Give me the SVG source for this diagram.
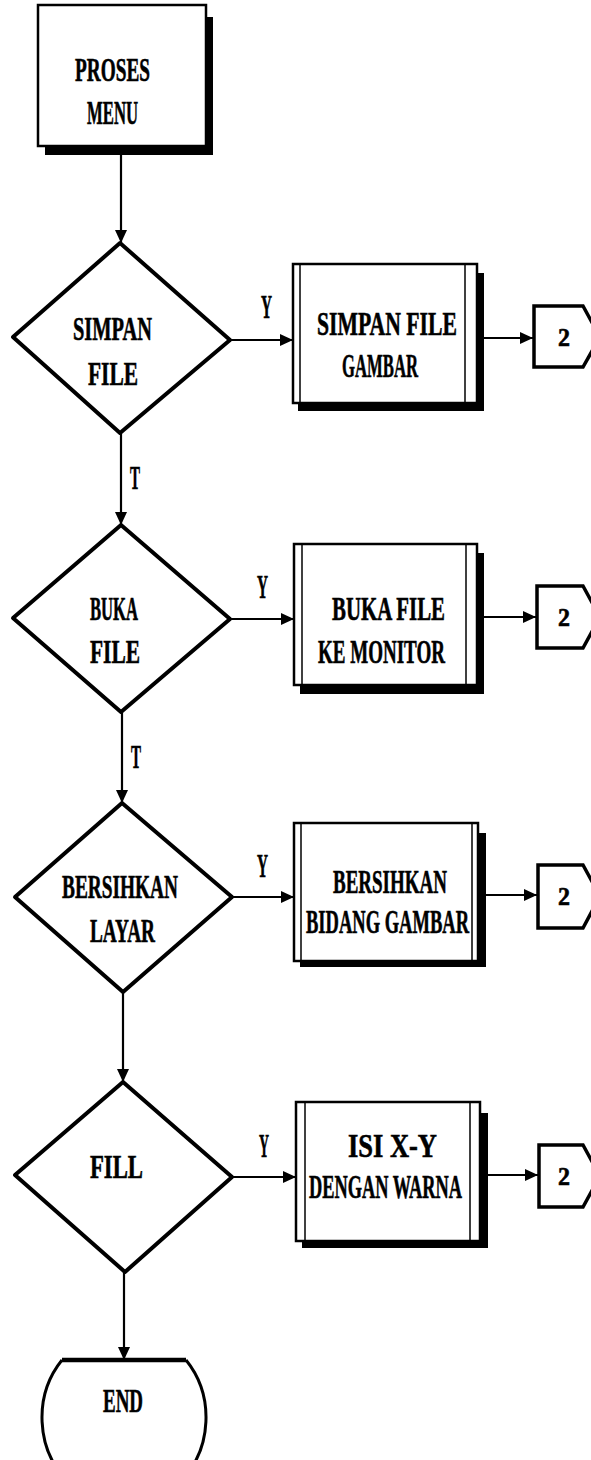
<svg xmlns="http://www.w3.org/2000/svg" width="591" height="1460" viewBox="0 0 591 1460">
<defs>
<marker id="ah" markerUnits="userSpaceOnUse" markerWidth="14" markerHeight="14" refX="13" refY="7" orient="auto">
<path d="M0,1 L13,7 L0,13 Z" fill="#000"/>
</marker>
</defs>
<style>
.t{font-family:"Liberation Serif","DejaVu Serif",serif;font-weight:bold;font-size:33px;fill:#000;stroke:#000;stroke-width:0.6}
.n{font-size:25px}
.d{fill:#fff;stroke:#000;stroke-width:4;stroke-linejoin:round}
.b{fill:#fff;stroke:#000;stroke-width:2.5}
.in{stroke:#000;stroke-width:1.5;fill:none}
.sh{fill:#000}
.c{fill:#fff;stroke:#000;stroke-width:3.5;stroke-linejoin:miter}
.ln{stroke:#000;stroke-width:2.2;fill:none}
</style>
<rect width="591" height="1460" fill="#fff"/>

<g id="connectors">
<line class="ln" x1="121" y1="155" x2="121" y2="243" marker-end="url(#ah)"/>
<line class="ln" x1="230" y1="340" x2="293" y2="340" marker-end="url(#ah)"/>
<line class="ln" x1="484" y1="338" x2="533" y2="338" marker-end="url(#ah)"/>
<line class="ln" x1="121" y1="433" x2="121" y2="525" marker-end="url(#ah)"/>
<line class="ln" x1="230" y1="619" x2="294" y2="619" marker-end="url(#ah)"/>
<line class="ln" x1="484" y1="617" x2="536" y2="617" marker-end="url(#ah)"/>
<line class="ln" x1="122" y1="712" x2="122" y2="803" marker-end="url(#ah)"/>
<line class="ln" x1="232" y1="897" x2="294" y2="897" marker-end="url(#ah)"/>
<line class="ln" x1="486" y1="895" x2="537" y2="895" marker-end="url(#ah)"/>
<line class="ln" x1="123" y1="992" x2="123" y2="1082" marker-end="url(#ah)"/>
<line class="ln" x1="232" y1="1177" x2="296" y2="1177" marker-end="url(#ah)"/>
<line class="ln" x1="488" y1="1175" x2="538" y2="1175" marker-end="url(#ah)"/>
<line class="ln" x1="124" y1="1272" x2="124" y2="1360" marker-end="url(#ah)"/>
<text class="t" x="261" y="318" font-size="30" textLength="11" lengthAdjust="spacingAndGlyphs">Y</text>
<text class="t" x="257" y="598" font-size="30" textLength="11" lengthAdjust="spacingAndGlyphs">Y</text>
<text class="t" x="257" y="877" font-size="30" textLength="11" lengthAdjust="spacingAndGlyphs">Y</text>
<text class="t" x="259" y="1157" font-size="30" textLength="10" lengthAdjust="spacingAndGlyphs">Y</text>
<text class="t" x="130" y="489" font-size="30" textLength="10" lengthAdjust="spacingAndGlyphs">T</text>
<text class="t" x="131" y="768" font-size="30" textLength="10" lengthAdjust="spacingAndGlyphs">T</text>
</g>

<g id="proses-menu">
<rect class="sh" x="45" y="17" width="168" height="138"/>
<rect class="b" x="38" y="5" width="168" height="141"/>
<text class="t" x="75" y="81" textLength="75" lengthAdjust="spacingAndGlyphs">PROSES</text>
<text class="t" x="87" y="124" textLength="51" lengthAdjust="spacingAndGlyphs">MENU</text>
</g>

<g id="simpan-file">
<polygon class="d" points="120,243 230,340 120,433 13,337"/>
<text class="t" x="73" y="340" textLength="79" lengthAdjust="spacingAndGlyphs">SIMPAN</text>
<text class="t" x="88" y="385" textLength="50" lengthAdjust="spacingAndGlyphs">FILE</text>
</g>

<g id="simpan-file-gambar">
<rect class="sh" x="298" y="273" width="186" height="138"/>
<rect class="b" x="293" y="264" width="184" height="139"/>
<line class="in" x1="300" y1="264" x2="300" y2="403"/>
<line class="in" x1="465" y1="264" x2="465" y2="403"/>
<text class="t" x="317" y="335" textLength="140" lengthAdjust="spacingAndGlyphs">SIMPAN FILE</text>
<text class="t" x="342" y="377" textLength="76" lengthAdjust="spacingAndGlyphs">GAMBAR</text>
</g>

<g id="conn-1">
<polygon class="c" points="534,306 583,306 600,337 583,367 534,367"/>
<text class="t n" x="558" y="346" textLength="12" lengthAdjust="spacingAndGlyphs">2</text>
</g>

<g id="buka-file">
<polygon class="d" points="121,525 230,619 121,712 13,618"/>
<text class="t" x="90" y="620" textLength="48" lengthAdjust="spacingAndGlyphs">BUKA</text>
<text class="t" x="90" y="663" textLength="50" lengthAdjust="spacingAndGlyphs">FILE</text>
</g>

<g id="buka-file-monitor">
<rect class="sh" x="300" y="553" width="184" height="141"/>
<rect class="b" x="294" y="544" width="183" height="141"/>
<line class="in" x1="302" y1="544" x2="302" y2="685"/>
<line class="in" x1="466" y1="544" x2="466" y2="685"/>
<text class="t" x="332" y="620" textLength="113" lengthAdjust="spacingAndGlyphs">BUKA FILE</text>
<text class="t" x="318" y="663" textLength="127" lengthAdjust="spacingAndGlyphs">KE MONITOR</text>
</g>

<g id="conn-2">
<polygon class="c" points="537,586 583,586 600,617 583,648 537,648"/>
<text class="t n" x="558" y="626" textLength="12" lengthAdjust="spacingAndGlyphs">2</text>
</g>

<g id="bersihkan-layar">
<polygon class="d" points="122,803 232,897 123,992 15,897"/>
<text class="t" x="62" y="898" textLength="116" lengthAdjust="spacingAndGlyphs">BERSIHKAN</text>
<text class="t" x="90" y="942" textLength="65" lengthAdjust="spacingAndGlyphs">LAYAR</text>
</g>

<g id="bersihkan-bidang">
<rect class="sh" x="300" y="833" width="186" height="134"/>
<rect class="b" x="294" y="823" width="184" height="138"/>
<line class="in" x1="301" y1="823" x2="301" y2="961"/>
<line class="in" x1="472" y1="823" x2="472" y2="961"/>
<text class="t" x="333" y="893" textLength="114" lengthAdjust="spacingAndGlyphs">BERSIHKAN</text>
<text class="t" x="306" y="933" textLength="163" lengthAdjust="spacingAndGlyphs">BIDANG GAMBAR</text>
</g>

<g id="conn-3">
<polygon class="c" points="538,865 583,865 600,896 583,928 538,928"/>
<text class="t n" x="558" y="905" textLength="12" lengthAdjust="spacingAndGlyphs">2</text>
</g>

<g id="fill">
<polygon class="d" points="123,1082 232,1177 125,1272 15,1175"/>
<text class="t" x="90" y="1178" textLength="53" lengthAdjust="spacingAndGlyphs">FILL</text>
</g>

<g id="isi-xy">
<rect class="sh" x="302" y="1113" width="186" height="135"/>
<rect class="b" x="296" y="1102" width="184" height="139"/>
<line class="in" x1="305" y1="1102" x2="305" y2="1241"/>
<line class="in" x1="470" y1="1102" x2="470" y2="1241"/>
<text class="t" x="348" y="1157" textLength="89" lengthAdjust="spacingAndGlyphs">ISI X-Y</text>
<text class="t" x="309" y="1198" textLength="153" lengthAdjust="spacingAndGlyphs">DENGAN WARNA</text>
</g>

<g id="conn-4">
<polygon class="c" points="539,1145 583,1145 600,1176 583,1207 539,1207"/>
<text class="t n" x="558" y="1185" textLength="12" lengthAdjust="spacingAndGlyphs">2</text>
</g>

<g id="end">
<path d="M62,1360 A82,88 0 1 0 186,1360" fill="#fff" stroke="#000" stroke-width="3"/>
<line x1="62" y1="1360" x2="186" y2="1360" stroke="#000" stroke-width="4.5"/>
<text class="t" x="103" y="1412" textLength="40" lengthAdjust="spacingAndGlyphs">END</text>
</g>
</svg>
